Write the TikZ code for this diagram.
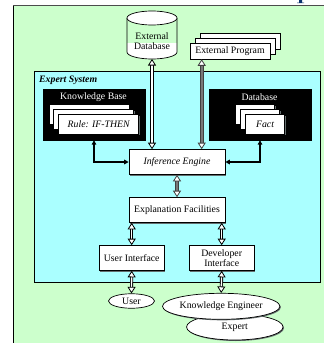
\documentclass[tikz,border=0pt]{standalone}
\usepackage{fontspec}
\setmainfont{Liberation Serif}
\usetikzlibrary{arrows.meta,shapes.geometric,calc,shadows}
\definecolor{pagegreen}{RGB}{204,255,204}
\definecolor{syscyan}{RGB}{170,255,255}
\definecolor{shadowgray}{RGB}{100,110,110}
\definecolor{navy}{RGB}{10,50,110}
\definecolor{shaftgray}{RGB}{120,120,120}
\tikzset{
  fs/.style={font=\fontsize{9.8}{10.5}\selectfont},
  fsi/.style={font=\fontsize{9.8}{10.5}\selectfont\itshape},
  shadowed/.style={drop shadow={shadow xshift=1pt,shadow yshift=-1pt,fill=shadowgray,opacity=1}},
  whitebox/.style={fs,draw=black,line width=.6pt,fill=white,inner sep=0pt,align=center,shadowed},
  blackbox/.style={draw=black,fill=black,inner sep=0pt},
  oval/.style={fs,ellipse,draw=black,line width=.7pt,fill=white,inner sep=0pt},
  dbl/.style={double=white,double distance=1.3pt,line width=.9pt},
  openhead/.style={Triangle[open,fill=white,length=6.5pt,width=8pt,line width=.8pt]},
  openboth/.style={dbl,{Triangle[open,fill=white,length=6.5pt,width=8pt,line width=.8pt]}-{Triangle[open,fill=white,length=6.5pt,width=8pt,line width=.8pt]}},
  grayboth/.style={openboth,double=shaftgray,double distance=1.8pt,draw=black!75},
  blackarrow/.style={line width=1.4pt,{Stealth[length=4.5pt,width=4.5pt,inset=0pt]}-{Stealth[length=4.5pt,width=4.5pt,inset=0pt]}},
}
\begin{document}
\begin{tikzpicture}[x=1pt,y=-1pt]
\useasboundingbox (0,0) rectangle (324,343);
\fill[white] (0,0) rectangle (324,343);
\fill[pagegreen] (13,6) rectangle (324,343);
\draw[line width=.9pt,black!70] (13,5.6) -- (324,5.6);
\draw[line width=.9pt,black] (13.4,5.6) -- (13.4,343);
\fill[navy] (299,0) rectangle (302,2.5) (297,2.5) rectangle (304,3.2);
% Expert System frame
\node[draw=black,line width=.6pt,fill=syscyan,minimum width=286.5pt,minimum height=211pt,inner sep=0pt,anchor=north west,shadowed] (system) at (33.5,70.5) {};
\node[font=\fontsize{9.8}{10.5}\selectfont\bfseries\itshape,anchor=west,inner sep=0pt] (systitle) at (39,80) {Expert System};
% External Database cylinder
\fill[white] (127,43) -- (177,43) -- (177,52) arc[start angle=0,end angle=-180,x radius=25,y radius=-7] -- cycle;
\draw[line width=.7pt] (127,18) -- (127,52) arc[start angle=180,end angle=0,x radius=25,y radius=7] -- (177,18);
\draw[line width=.7pt,fill=white] (152,18) ellipse[x radius=25,y radius=7];
\node[fs,align=center,inner sep=0pt] (extdb) at (152,41) {External\\Database};
\coordinate (extdbbottom) at (152,59);
% External Program stack
\node[whitebox,minimum width=80pt,minimum height=15.5pt] (prog3) at (240,41.2) {};
\node[whitebox,minimum width=80pt,minimum height=15.5pt] (prog2) at (235,46.2) {};
\node[whitebox,minimum width=80pt,minimum height=15.5pt] (prog1) at (230,51.2) {External Program};
\coordinate (progport) at ($(prog1.south west)+(12,0)$);
% Knowledge Base
\node[blackbox,minimum width=102pt,minimum height=51pt] (kb) at (94,114.5) {};
\node[fs,text=white,inner sep=0pt] (kbtitle) at (93.5,96.7) {Knowledge Base};
\node[whitebox,minimum width=80pt,minimum height=19.5pt] (rule3) at (89,114.5) {};
\node[whitebox,minimum width=80pt,minimum height=19.5pt] (rule2) at (93.7,119.5) {};
\node[whitebox,minimum width=80pt,minimum height=19.5pt,fsi] (rule1) at (98.7,124.3) {Rule: IF-THEN};
% Database
\node[blackbox,minimum width=102pt,minimum height=51pt] (db) at (260,114.5) {};
\node[fs,text=white,inner sep=0pt] (dbtitle) at (259.5,96.7) {Database};
\node[whitebox,minimum width=39pt,minimum height=19.5pt] (fact3) at (255,114.5) {};
\node[whitebox,minimum width=39pt,minimum height=19.5pt] (fact2) at (260,119.5) {};
\node[whitebox,minimum width=39pt,minimum height=19.5pt,fsi] (fact1) at (265,124.3) {Fact};
% Main boxes
\node[whitebox,minimum width=96pt,minimum height=25pt,fsi] (ie) at (177,162) {Inference Engine};
\node[whitebox,minimum width=96pt,minimum height=25pt] (ef) at (177,210) {Explanation Facilities};
\node[whitebox,minimum width=65.5pt,minimum height=25pt] (ui) at (131.7,258) {User Interface};
\node[whitebox,minimum width=65.5pt,minimum height=25pt] (di) at (221.7,258) {Developer\\Interface};
% Ovals
\node[oval,minimum width=46pt,minimum height=14.5pt] (user) at (131.5,301) {User};
\node[oval,minimum width=96.5pt,minimum height=26pt,shadowed] (expert) at (234.8,327) {Expert};
\node[oval,minimum width=96.5pt,minimum height=26pt,shadowed] (ke) at (221.2,306.3) {Knowledge Engineer};
% Connectors
\draw[openboth] (extdbbottom) -- (extdbbottom |- ie.north);
\draw[grayboth] (progport) -- (progport |- ie.north);
\draw[blackarrow] (kb.south) |- (ie.west);
\draw[blackarrow] (db.south) |- (ie.east);
\draw[grayboth] (ie.south) -- (ef.north);
\draw[openboth] (ui.north |- ef.south) -- (ui.north);
\draw[openboth] (di.north |- ef.south) -- (di.north);
\draw[openboth] (ui.south) -- (user.north);
\draw[openboth] (di.south) -- (ke.north);
\end{tikzpicture}
\end{document}
